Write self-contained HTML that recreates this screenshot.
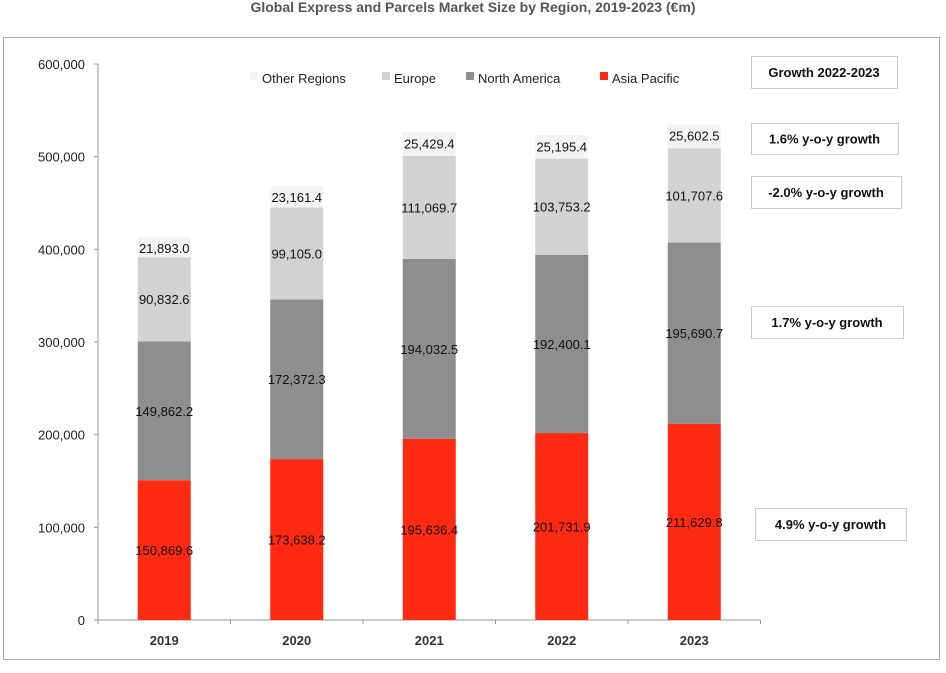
<!DOCTYPE html>
<html><head><meta charset="utf-8"><style>
body{margin:0;background:#fff;width:946px;height:668px;overflow:hidden;font-family:"Liberation Sans",sans-serif}
</style></head><body>
<svg width="946" height="668" id="svg">
<text x="473" y="12" text-anchor="middle" font-size="14" font-weight="bold" fill="#555">Global Express and Parcels Market Size by Region, 2019-2023 (€m)</text>
<rect x="3.5" y="37.5" width="936" height="622" fill="#fff" stroke="#aaa"/>
<g id="plot"></g>
</svg>
<script>
const categories=["2019","2020","2021","2022","2023"];
const asiaPacific=[150869.6,173638.2,195636.4,201731.9,211629.8];
const northAmerica=[149862.2,172372.3,194032.5,192400.1,195690.7];
const europe=[90832.6,99105.0,111069.7,103753.2,101707.6];
const otherRegions=[21893.0,23161.4,25429.4,25195.4,25602.5];
const yTicks=[0,100000,200000,300000,400000,500000,600000];
const growthLabels=["Growth 2022-2023","1.6% y-o-y growth","-2.0% y-o-y growth","1.7% y-o-y growth","4.9% y-o-y growth"];
const NS="http://www.w3.org/2000/svg";
const g=document.getElementById('plot');
const x0=98,band=132.5,y0=620,yMax=600000,yH=556,bw=53;
const y=v=>y0-v/yMax*yH;
const xc=i=>x0+band*(i+0.5);
function el(t,a,txt){const e=document.createElementNS(NS,t);for(const k in a)e.setAttribute(k,a[k]);if(txt!=null)e.textContent=txt;g.appendChild(e);return e;}
const fmt=v=>v.toLocaleString('en-US',{minimumFractionDigits:1,maximumFractionDigits:1});
const fmt0=v=>v.toLocaleString('en-US');
// axes
let ax=el('line',{x1:x0,y1:y(yMax),x2:x0,y2:y0,stroke:'#999'});


let axx=el('line',{x1:x0,y1:y0,x2:x0+band*5,y2:y0,stroke:'#999'});


yTicks.forEach(t=>{
 el('line',{x1:x0-4,y1:y(t),x2:x0,y2:y(t),stroke:'#999'});
 const l=el('text',{x:x0-13,y:y(t)+5,'text-anchor':'end','font-size':13,fill:'#222'},fmt0(t));
 
 
});
for(let i=0;i<=5;i++)el('line',{x1:x0+band*i,y1:y0,x2:x0+band*i,y2:y0+4,stroke:'#999'});
const series=[[asiaPacific,'#fe2a12','asia-pacific'],[northAmerica,'#8e8e8e','north-america'],[europe,'#d2d2d2','europe'],[otherRegions,'#f3f3f3','other-regions']];
categories.forEach((c,i)=>{
 let base=0;
 series.forEach(([arr,col,nm])=>{
  const v=arr[i];
  const r=el('rect',{x:xc(i)-bw/2,y:y(base+v),width:bw,height:y(base)-y(base+v),fill:col});
  
  
  const ty=nm==='other-regions'?y(base+v)+16:(y(base)+y(base+v))/2+5;
  const t=el('text',{x:xc(i),y:ty,'text-anchor':'middle','font-size':13,fill:'#111'},fmt(v));
  
  
  base+=v;
 });
 const xl=el('text',{x:xc(i),y:645,'text-anchor':'middle','font-size':13,'font-weight':'bold',fill:'#333'},c);
 
 
});
// legend
const leg=[['Other Regions','#f3f3f3',250],['Europe','#d2d2d2',382],['North America','#8e8e8e',466],['Asia Pacific','#fe2a12',600]];
leg.forEach(([n,c,lx])=>{
 const s=el('rect',{x:lx,y:72,width:8,height:8,fill:c});
 
 
 const t=el('text',{x:lx+12,y:83,'font-size':13,fill:'#222'},n);
 
 
});
// growth boxes
const gb=[[751,56,146,32],[751,123,147,31],[751,176,150,32],[751,306,152,32],[755,508,151,32]];
gb.forEach(([bx,by,w,h],i)=>{
 const r=el('rect',{x:bx+.5,y:by+.5,width:w,height:h,fill:'#fff',stroke:'#ccc'});
 
 
 const t=el('text',{x:bx+w/2,y:by+h/2+5,'text-anchor':'middle','font-size':13,'font-weight':'bold',fill:'#111'},growthLabels[i]);
 
 
});
</script>
</body></html>
